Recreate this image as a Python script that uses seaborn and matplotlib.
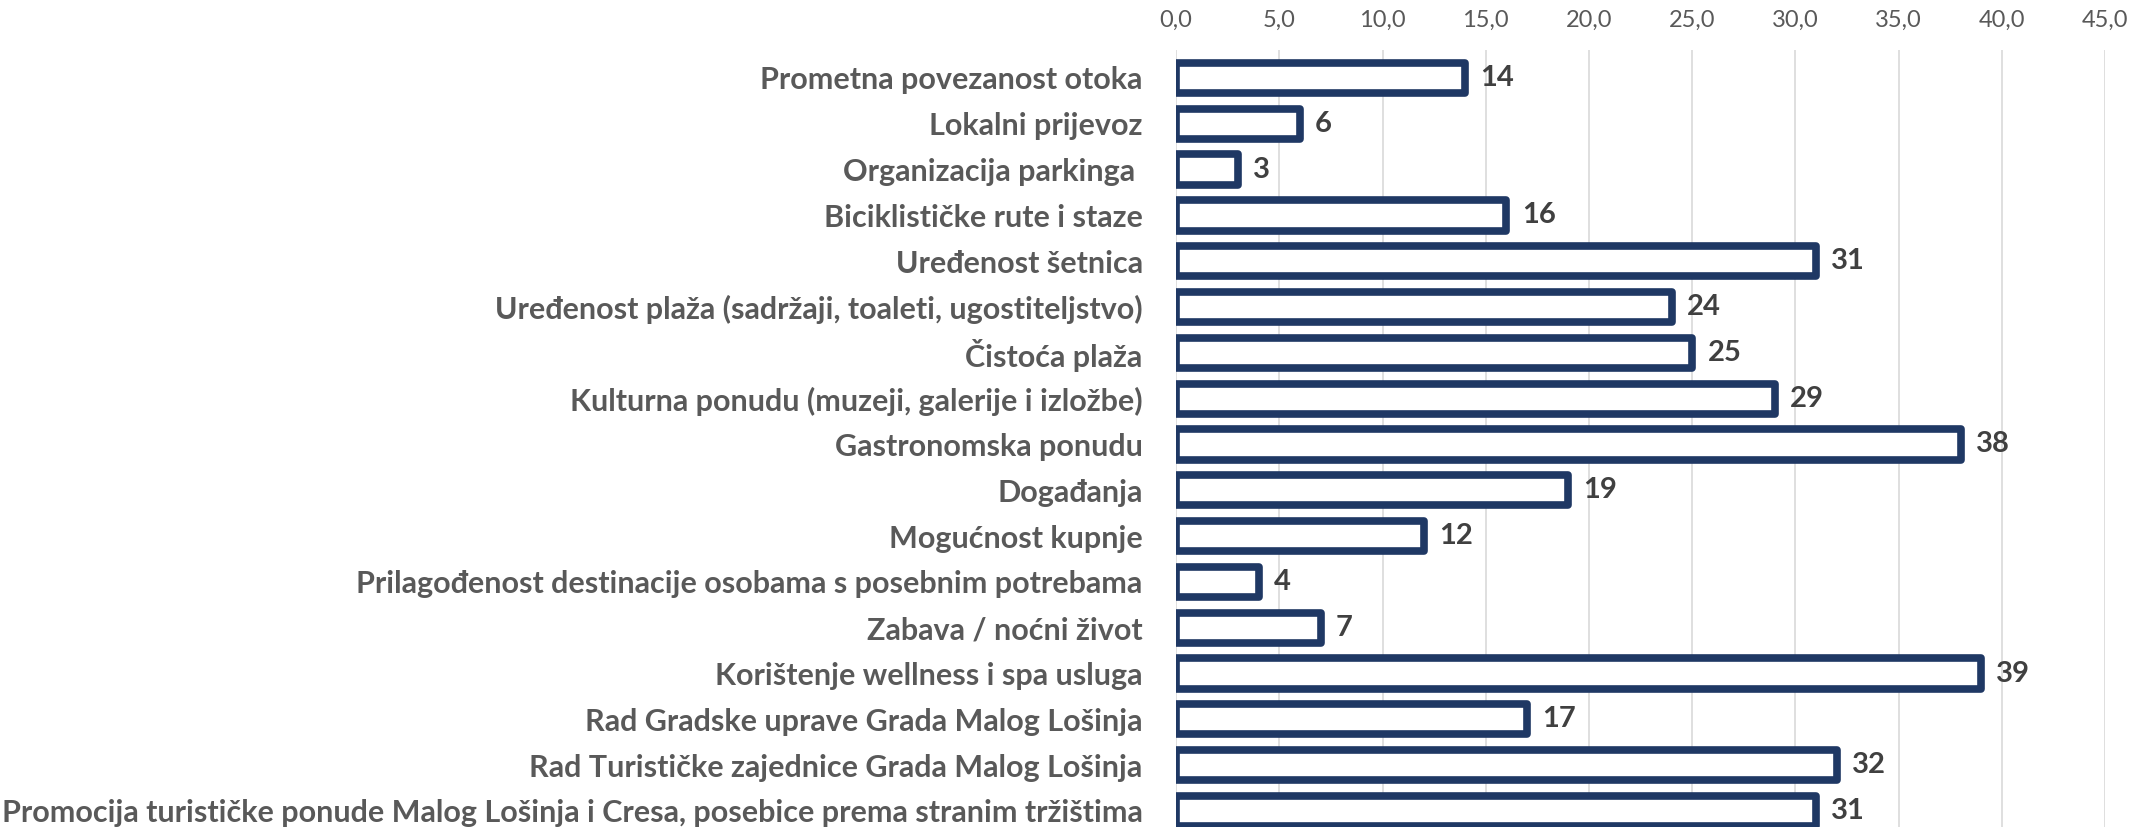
import matplotlib
matplotlib.use("Agg")
import matplotlib.pyplot as plt
import seaborn as sns
import pandas as pd
from matplotlib.ticker import FuncFormatter

# data
categories = [
    "Prometna povezanost otoka",
    "Lokalni prijevoz",
    "Organizacija parkinga ",
    "Biciklističke rute i staze",
    "Uređenost šetnica",
    "Uređenost plaža (sadržaji, toaleti, ugostiteljstvo)",
    "Čistoća plaža",
    "Kulturna ponudu (muzeji, galerije i izložbe)",
    "Gastronomska ponudu",
    "Događanja",
    "Mogućnost kupnje",
    "Prilagođenost destinacije osobama s posebnim potrebama",
    "Zabava / noćni život",
    "Korištenje wellness i spa usluga",
    "Rad Gradske uprave Grada Malog Lošinja",
    "Rad Turističke zajednice Grada Malog Lošinja",
    "Promocija turističke ponude Malog Lošinja i Cresa, posebice prema stranim tržištima",
]
values = [14, 6, 3, 16, 31, 24, 25, 29, 38, 19, 12, 4, 7, 39, 17, 32, 31]
x_ticks = [0, 5, 10, 15, 20, 25, 30, 35, 40, 45]

df = pd.DataFrame({"kategorija": categories, "vrijednost": values})

sns.set_style("white")
plt.rcParams["font.family"] = ["Lato", "DejaVu Sans"]

fig = plt.figure(figsize=(21.36, 8.27), dpi=100)
ax = fig.add_axes([0.5506, 0.0, 0.4349, 0.9395])

navy = "#1F3864"
sns.barplot(data=df, y="kategorija", x="vrijednost", orient="h",
            color="white", edgecolor=navy, linewidth=5.5, width=0.66,
            saturation=1, ax=ax)
for p in ax.patches:
    p.set_joinstyle("round")

ax.bar_label(ax.containers[0], labels=[str(v) for v in values], padding=11,
             fontsize=21, fontweight="bold", color="#404040")

ax.set_xlim(0, 45)
ax.set_ylim(16.35, -0.61)
ax.set_xticks(x_ticks)
ax.xaxis.set_major_formatter(FuncFormatter(lambda v, _: f"{v:.1f}".replace(".", ",")))
ax.xaxis.tick_top()
ax.tick_params(axis="x", length=0, pad=14, labelsize=17, labelcolor="#595959")
ax.tick_params(axis="y", length=0, pad=24, labelsize=22, labelcolor="#595959")
for t in ax.get_yticklabels():
    t.set_fontweight("bold")
ax.grid(axis="x", color="#D9D9D9", linewidth=1.2)
ax.set_axisbelow(True)
ax.set_xlabel("")
ax.set_ylabel("")
for s in ax.spines.values():
    s.set_visible(False)

fig.savefig("out.png", dpi=100)
